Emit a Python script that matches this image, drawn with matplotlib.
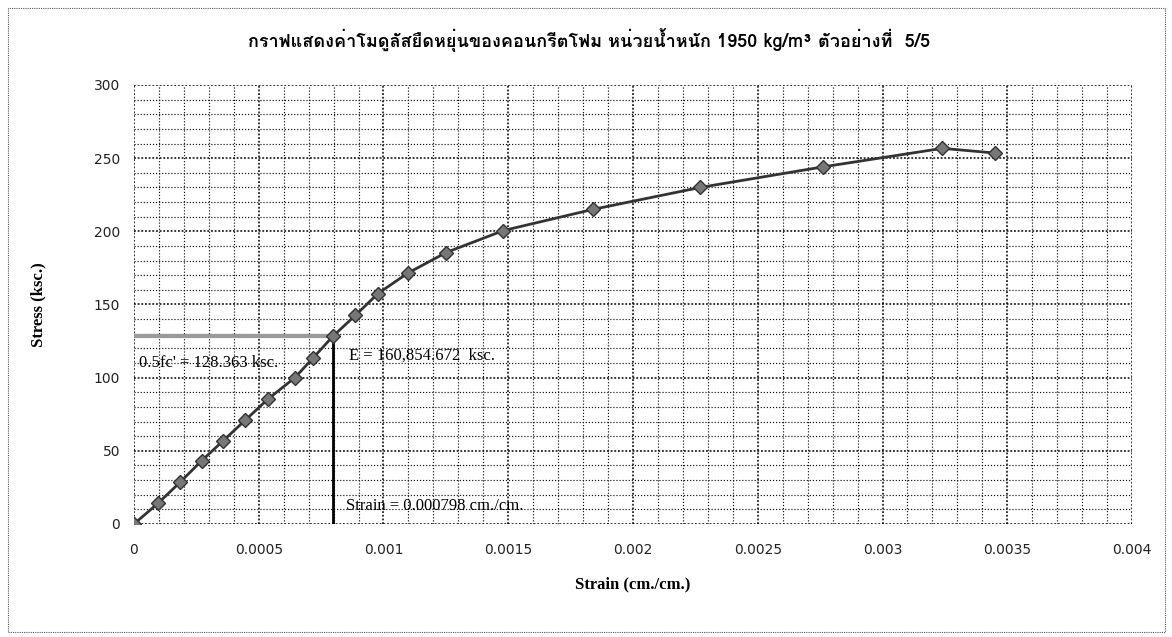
import matplotlib
matplotlib.use("Agg")
import matplotlib.pyplot as plt
from matplotlib import font_manager
from matplotlib.ft2font import FT2Font
from matplotlib.ticker import MultipleLocator, FixedLocator, FixedFormatter
from matplotlib.patches import Rectangle

# test data
strain = [0, 0.0000973, 0.000184, 0.000271, 0.000357, 0.000447, 0.000536,
          0.000645, 0.000718, 0.000798, 0.000887, 0.000978, 0.001098,
          0.001251, 0.00148, 0.00184, 0.00227, 0.00276, 0.00324, 0.00345]
stress = [0, 14.3, 28.4, 43.2, 56.8, 71.1, 85.2, 100.0, 113.5, 128.4,
          142.5, 157.5, 171.5, 185.5, 200.5, 215.0, 230.0, 244.0, 256.7, 253.5]

half_fc = 128.363
strain_at_half = 0.000798
modulus = "160,854.672"

x_ticks = [0, 0.0005, 0.001, 0.0015, 0.002, 0.0025, 0.003, 0.0035, 0.004]
x_tick_labels = ["0", "0.0005", "0.001", "0.0015", "0.002", "0.0025", "0.003", "0.0035", "0.004"]
y_ticks = [0, 50, 100, 150, 200, 250, 300]

title = "กราฟแสดงค่าโมดูลัสยืดหยุ่นของคอนกรีตโฟม หน่วยน้ำหนัก 1950 kg/m³ ตัวอย่างที่  5/5"


def find_thai_font():
    # first installed family that actually has Thai glyphs
    for f in font_manager.fontManager.ttflist:
        try:
            if 0x0E01 in FT2Font(f.fname).get_charmap():
                return f.name
        except Exception:
            pass
    return "DejaVu Sans"


thai = find_thai_font()
serif = ["Liberation Serif", "DejaVu Serif"]

fig = plt.figure(figsize=(11.72, 6.37), dpi=100)
ax = fig.add_axes([0.1143, 0.1774, 0.8516, 0.6892])

ax.set_xlim(0, 0.004)
ax.set_ylim(0, 300)

ax.xaxis.set_major_locator(FixedLocator(x_ticks))
ax.xaxis.set_major_formatter(FixedFormatter(x_tick_labels))
ax.xaxis.set_minor_locator(MultipleLocator(0.0001))
ax.yaxis.set_major_locator(FixedLocator(y_ticks))
ax.yaxis.set_minor_locator(MultipleLocator(10))

ax.grid(which="major", color="black", linestyle=(0, (1.2, 1.2)), linewidth=1.1)
ax.grid(which="minor", color="#111111", linestyle=(0, (1, 1.6)), linewidth=0.85)
for s in ax.spines.values():
    s.set_visible(False)
ax.tick_params(which="both", length=0)
ax.tick_params(axis="x", pad=14, labelsize=10)
ax.tick_params(axis="y", pad=10, labelsize=10)
for lab in ax.get_xticklabels() + ax.get_yticklabels():
    lab.set_fontfamily("DejaVu Sans")
    lab.set_color("#222222")

# 0.5fc' guide lines
ax.plot([0, strain_at_half], [half_fc, half_fc], color="#9a9a9a", linewidth=3, zorder=2)
ax.plot([strain_at_half, strain_at_half], [0, half_fc], color="black", linewidth=2, zorder=2)

ax.plot(strain, stress, color="#333333", linewidth=2, marker="D", markersize=7,
        markerfacecolor="#777777", markeredgecolor="#333333", zorder=3)

ax.text(0.000022, 110, "0.5fc' = 128.363 ksc.", family=serif, fontsize=12, va="center")
ax.text(0.00086, 115, "E = " + modulus + "  ksc.", family=serif, fontsize=12, va="center")
ax.text(0.00085, 12.5, "Strain = 0.000798 cm./cm.", family=serif, fontsize=12, va="center")

fig.text(0.503, 0.937, title, family=[thai, "DejaVu Serif"], fontsize=13,
         fontweight="bold", ha="center", va="center")
ax.set_xlabel("Strain (cm./cm.)", family=serif, fontsize=12, fontweight="bold", labelpad=14)
ax.set_ylabel("Stress (ksc.)", family=serif, fontsize=12, fontweight="bold", labelpad=34)

fig.patches.append(Rectangle((0.007, 0.008), 0.987, 0.98, transform=fig.transFigure,
                             fill=False, linestyle=(0, (1, 1)), linewidth=0.8,
                             edgecolor="#555555"))

fig.savefig("out.png", dpi=100)
